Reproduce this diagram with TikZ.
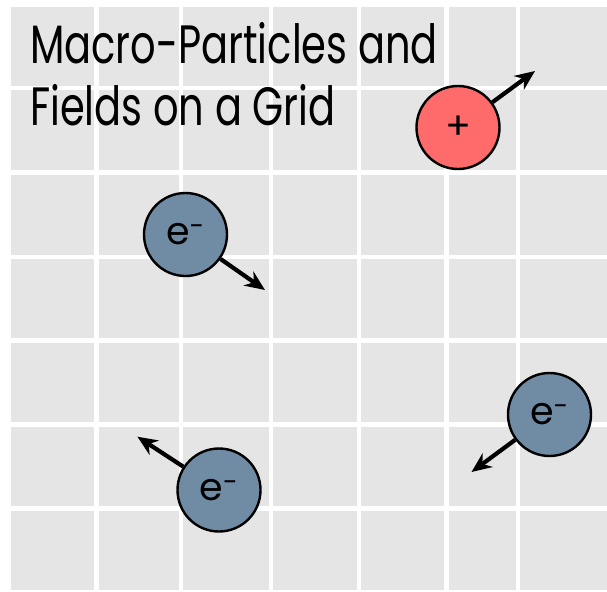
\documentclass[tikz,border=0pt]{standalone}
\usepackage{fontspec}
\setmainfont{Poppins}[FakeStretch=0.74]
\newfontfamily\partfont{Poppins}
\usetikzlibrary{arrows.meta,calc,positioning}
\definecolor{GridPaper}{HTML}{E5E5E5}
\definecolor{GridLine}{HTML}{FFFFFF}
\definecolor{IonRed}{HTML}{FF6B6B}
\definecolor{ElecBlue}{HTML}{708CA5}
\definecolor{PartInk}{HTML}{000000}
\tikzset{
  every node/.style={text=PartInk},
  gridline/.style={draw=GridLine, line width=4.5pt},
  particle/.style={circle, draw=PartInk, line width=2.4pt, minimum size=83pt, inner sep=0pt,
    font=\partfont\fontsize{38}{38}\selectfont},
  ion/.style={particle, fill=IonRed},
  electron/.style={particle, fill=ElecBlue},
  velocity/.style={-{Stealth[length=20pt,width=17pt]}, draw=PartInk, line width=4.2pt},
}

\begin{document}
\begin{tikzpicture}[x=1pt,y=-1pt]
  \useasboundingbox (0,0) rectangle (607,591);
  % Grid: cells on a light paper
  \fill[GridPaper] (11,6.7) rectangle (607,590);
  \foreach \x in {96.3,181,271,359,446.5,518}{
    \draw[gridline] (\x,6.7) -- (\x,590);
  }
  \foreach \y in {88,172.5,257,340.5,424.5,508.5}{
    \draw[gridline] (11,\y) -- (607,\y);
  }
  \node[anchor=north west, inner sep=0pt, align=left,
    font=\fontsize{54}{62}\selectfont] (title) at (30,22)
    {Macro-Particles and\\Fields on a Grid};
  % Particles and their velocities
  \node[ion] (ion) at (458,127.5) {+};
  \node[electron] (elecA) at (185.5,234.5) {e\textsuperscript{-}};
  \node[electron] (elecB) at (549.5,414.5) {e\textsuperscript{-}};
  \node[electron] (elecC) at (219,490) {e\textsuperscript{-}};
  \coordinate (ionV) at ($(ion)+(77,-56.5)$);
  \coordinate (elecAV) at ($(elecA)+(79.5,55.5)$);
  \coordinate (elecBV) at ($(elecB)+(-78,57.5)$);
  \coordinate (elecCV) at ($(elecC)+(-81.6,-53.3)$);
  \draw[velocity] (ion) -- (ionV);
  \draw[velocity] (elecA) -- (elecAV);
  \draw[velocity] (elecB) -- (elecBV);
  \draw[velocity] (elecC) -- (elecCV);
\end{tikzpicture}
\end{document}
